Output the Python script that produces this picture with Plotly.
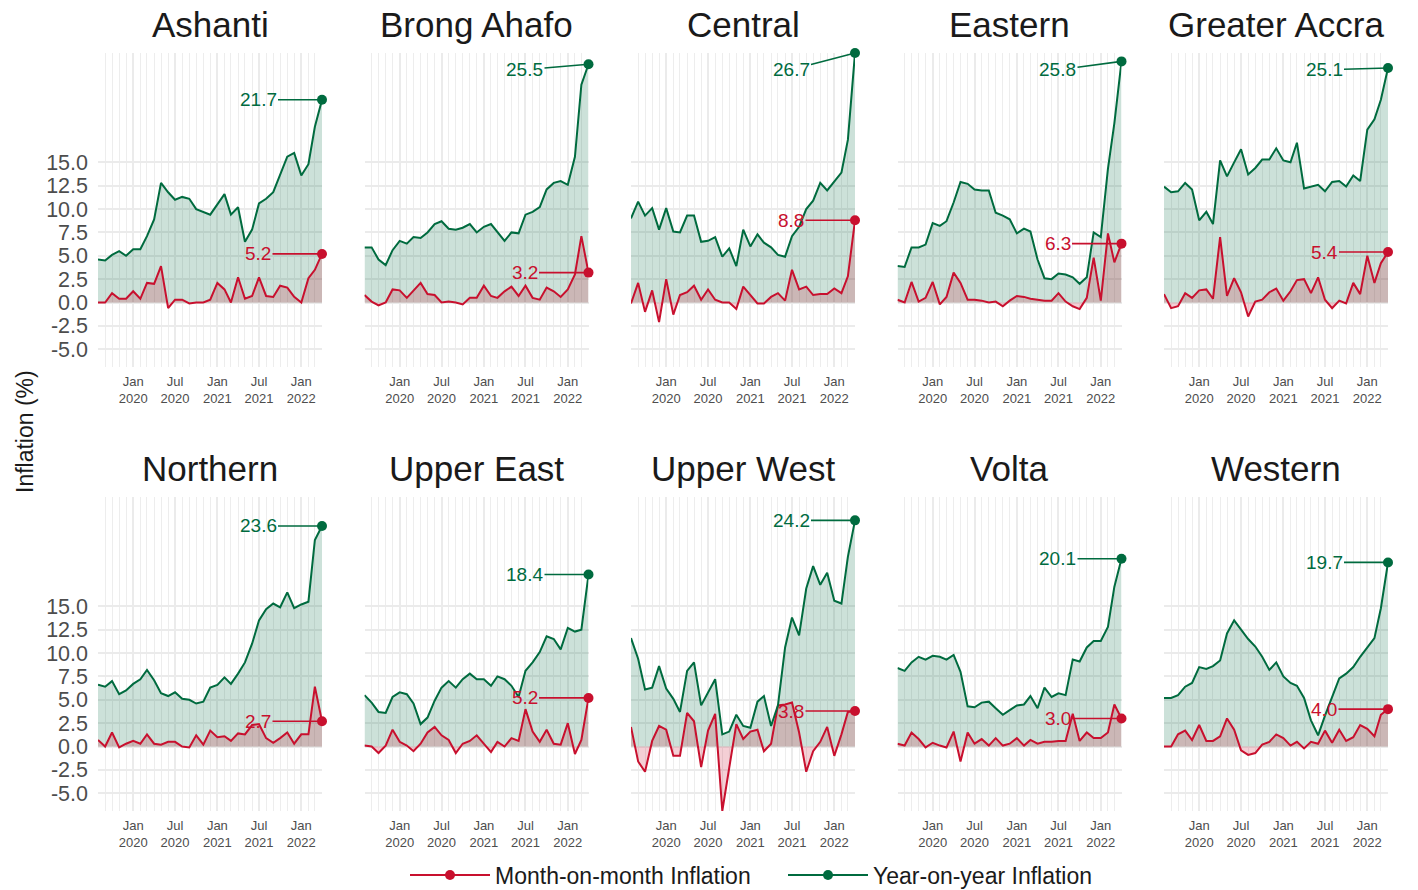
import plotly.graph_objects as go
import pandas as pd

# ---------------- data ----------------
months = pd.date_range("2019-08-01", "2022-04-01", freq="MS")

regions = ["Ashanti", "Brong Ahafo", "Central", "Eastern", "Greater Accra",
           "Northern", "Upper East", "Upper West", "Volta", "Western"]

yoy_ashanti = [4.6, 4.5, 5.1, 5.5, 5.0, 5.7, 5.7, 7.1, 8.9, 12.8, 11.8, 11.0, 11.3, 11.1, 10.0, 9.7, 9.4,
               10.5, 11.6, 9.4, 10.2, 6.5, 7.8, 10.6, 11.1, 11.8, 13.7, 15.6, 16.0, 13.6, 14.8, 18.8, 21.7]
mom_ashanti = [0.0, 0.0, 1.0, 0.4, 0.4, 1.2, 0.4, 2.1, 2.0, 3.9, -0.6, 0.3, 0.3, -0.1, 0.0, 0.0, 0.3,
               2.1, 1.4, 0.0, 2.7, 0.4, 0.7, 2.7, 0.7, 0.6, 1.8, 1.6, 0.6, 0.0, 2.6, 3.5, 5.2]

yoy_brong_ahafo = [5.9, 5.9, 4.6, 4.0, 5.6, 6.6, 6.3, 7.0, 6.9, 7.5, 8.4, 8.7, 7.9, 7.8, 8.0, 8.4, 7.5,
                   8.1, 8.4, 7.5, 6.6, 7.5, 7.4, 9.4, 9.7, 10.2, 12.1, 12.8, 13.0, 12.6, 15.6, 23.3, 25.5]
mom_brong_ahafo = [0.8, 0.1, -0.3, 0.0, 1.4, 1.3, 0.5, 1.3, 2.1, 0.9, 0.8, 0.0, 0.1, 0.0, -0.2, 0.5, 0.5,
                   1.8, 0.7, 0.5, 1.2, 1.7, 0.7, 1.8, 0.5, 0.3, 1.6, 1.2, 0.6, 1.4, 3.0, 7.1, 3.2]

yoy_central = [9.0, 10.8, 9.3, 10.1, 7.8, 10.1, 7.6, 7.5, 9.3, 9.3, 6.5, 6.6, 7.0, 4.9, 5.8, 3.9, 7.8,
               6.0, 7.3, 6.4, 5.9, 5.1, 4.9, 7.1, 8.1, 10.0, 10.9, 12.8, 12.0, 12.9, 13.9, 17.4, 26.7]
mom_central = [-0.1, 2.1, -1.0, 1.3, -2.1, 2.5, -1.3, 0.8, 1.1, 1.8, 0.3, 1.4, 0.3, 0.0, 0.0, -0.7, 1.7,
               0.8, -0.1, -0.1, 0.6, 1.0, 0.2, 3.5, 1.4, 1.7, 0.8, 0.9, 0.9, 1.5, 1.0, 2.8, 8.8]

yoy_eastern = [3.9, 3.8, 5.9, 5.9, 6.2, 8.5, 8.2, 8.7, 10.7, 12.9, 12.7, 12.1, 12.0, 12.0, 9.6, 9.3, 8.9,
               7.4, 7.9, 7.6, 4.6, 2.6, 2.5, 3.1, 3.0, 2.7, 2.0, 2.7, 7.5, 7.0, 14.3, 19.2, 25.8]
mom_eastern = [0.3, 0.0, 2.2, 0.1, 0.5, 2.2, -0.2, 0.6, 3.2, 2.1, 0.3, 0.3, 0.2, 0.0, 0.1, -0.4, 0.2,
               0.7, 0.6, 0.4, 0.3, 0.2, 0.2, 1.0, 0.1, -0.4, -0.7, 0.5, 4.8, 0.2, 7.4, 4.3, 6.3]

yoy_greater_accra = [12.4, 11.8, 11.9, 12.8, 12.1, 8.8, 9.7, 8.4, 15.2, 13.5, 15.0, 16.4, 13.7, 14.4, 15.3, 15.3, 16.5,
                     15.2, 15.0, 17.1, 12.2, 12.4, 12.6, 11.9, 12.9, 13.0, 12.4, 13.6, 13.0, 18.5, 19.6, 21.7, 25.1]
mom_greater_accra = [0.9, -0.6, -0.4, 1.0, 0.5, 1.3, 1.4, 0.4, 7.0, 0.7, 2.6, 1.1, -1.5, 0.1, 0.3, 1.1, 1.5,
                     0.2, 1.2, 2.4, 2.5, 1.0, 2.7, 0.3, -0.6, 0.2, -0.1, 2.1, 0.9, 5.0, 2.1, 4.2, 5.4]

yoy_northern = [6.6, 6.4, 7.0, 5.6, 6.0, 6.7, 7.2, 8.2, 7.1, 5.7, 5.4, 5.8, 5.1, 5.0, 4.6, 4.8, 6.3,
                6.6, 7.4, 6.7, 7.8, 9.0, 11.0, 13.5, 14.7, 15.3, 14.9, 16.5, 14.8, 15.2, 15.5, 22.1, 23.6]
mom_northern = [0.7, 0.0, 1.5, -0.1, 0.3, 0.6, 0.3, 1.3, 0.3, 0.2, 0.5, 0.5, 0.0, -0.1, 1.2, 0.2, 1.7,
                1.0, 1.1, 0.6, 1.4, 1.3, 2.3, 2.4, 0.9, 0.4, 0.9, 1.5, 0.3, 1.3, 1.3, 6.4, 2.7]

yoy_upper_east = [5.5, 4.7, 3.7, 3.6, 5.3, 5.8, 5.6, 4.6, 2.4, 3.1, 4.9, 6.3, 7.0, 6.3, 7.2, 7.8, 7.2,
                  7.2, 6.5, 7.5, 7.2, 6.5, 5.3, 8.1, 9.0, 10.1, 11.8, 11.5, 10.4, 12.7, 12.3, 12.5, 18.4]
mom_upper_east = [0.1, 0.0, -0.7, 0.1, 1.8, 0.5, 0.1, -0.5, 0.3, 1.5, 2.1, 1.2, 0.7, -0.7, 0.3, 0.6, 1.2,
                  0.3, -0.6, 0.5, 0.0, 0.9, 0.6, 4.0, 1.6, 0.5, 1.8, 0.3, 0.2, 2.5, -0.8, 0.7, 5.2]

yoy_upper_west = [11.6, 9.4, 6.1, 6.3, 8.6, 6.2, 5.1, 3.7, 8.1, 9.0, 4.4, 5.8, 7.2, 1.3, 1.6, 3.4, 2.2,
                  2.0, 4.8, 5.4, 2.2, 4.4, 10.6, 13.8, 11.9, 16.9, 19.3, 17.3, 18.6, 15.6, 15.3, 20.3, 24.2]
mom_upper_west = [2.1, -1.6, -2.7, 0.6, 2.2, 1.8, -1.0, -1.0, 3.6, 2.7, -2.2, 1.7, 3.5, -6.9, -2.3, 2.4, 0.8,
                  1.6, 1.8, -0.5, 0.3, 4.4, 4.5, 4.7, 1.5, -2.7, -0.5, 0.5, 2.1, -1.0, 1.3, 3.7, 3.8]

yoy_volta = [8.4, 8.1, 9.0, 9.6, 9.3, 9.7, 9.6, 9.3, 9.8, 8.0, 4.3, 4.2, 4.7, 4.8, 4.1, 3.4, 3.9,
             4.4, 4.5, 5.4, 4.1, 6.3, 5.3, 5.7, 5.5, 9.3, 9.1, 10.6, 11.3, 11.3, 12.8, 17.1, 20.1]
mom_volta = [0.3, 0.1, 1.5, 0.8, -0.1, 0.4, 0.1, -0.1, 1.6, -1.6, 1.5, 0.3, 0.8, 0.1, 0.9, 0.1, 0.3,
             0.9, 0.1, 0.7, 0.3, 0.5, 0.5, 0.6, 0.6, 3.5, 0.6, 1.5, 0.9, 0.9, 1.5, 4.5, 3.0]

yoy_western = [5.2, 5.2, 5.5, 6.4, 6.8, 8.5, 8.3, 8.6, 9.2, 12.1, 13.5, 12.5, 11.5, 10.7, 9.6, 8.2, 9.0,
               7.5, 6.8, 6.5, 5.2, 2.8, 1.2, 3.3, 5.4, 7.3, 7.8, 8.5, 9.6, 10.6, 11.6, 14.8, 19.7]
mom_western = [0.0, 0.0, 1.3, 1.7, 0.7, 2.3, 0.6, 0.6, 1.1, 3.0, 1.8, -0.4, -0.9, -0.7, 0.2, 0.5, 1.3,
               0.9, 0.1, 0.5, -0.2, 0.5, 0.3, 1.7, 0.4, 1.8, 0.6, 1.0, 2.3, 1.9, 1.1, 3.4, 4.0]

yoy_series = [yoy_ashanti, yoy_brong_ahafo, yoy_central, yoy_eastern, yoy_greater_accra,
              yoy_northern, yoy_upper_east, yoy_upper_west, yoy_volta, yoy_western]
mom_series = [mom_ashanti, mom_brong_ahafo, mom_central, mom_eastern, mom_greater_accra,
              mom_northern, mom_upper_east, mom_upper_west, mom_volta, mom_western]

x_tick_dates = ["2020-01-01", "2020-07-01", "2021-01-01", "2021-07-01", "2022-01-01"]
x_tick_labels = ["Jan<br>2020", "Jul<br>2020", "Jan<br>2021", "Jul<br>2021", "Jan<br>2022"]
y_tick_vals = [-5.0, -2.5, 0.0, 2.5, 5.0, 7.5, 10.0, 12.5, 15.0]
y_tick_labels = ["-5.0", "-2.5", "0.0", "2.5", "5.0", "7.5", "10.0", "12.5", "15.0"]

# ---------------- style ----------------
W, H = 1418, 890
FONT = "Liberation Sans, Arial, sans-serif"
GREEN = "#006B3F"
RED = "#C8102E"
GREEN_FILL = "rgba(0,107,63,0.20)"
RED_FILL = "rgba(200,16,46,0.20)"
GRID = "#EBEBEB"
col_x0 = [98, 364.5, 631, 897.5, 1164]
row_top = [53, 497]
title_y = [25, 468]
PW, PH = 224, 314
Y_RANGE = [-6.9, 26.7]
LABEL_CAP = 24.9

fig = go.Figure()
layout = dict(
    width=W, height=H,
    margin=dict(l=0, r=0, t=0, b=0, autoexpand=False),
    paper_bgcolor="white", plot_bgcolor="white",
    font=dict(family=FONT, color="#1A1A1A"),
    showlegend=True,
    legend=dict(orientation="h", x=405 / W, xanchor="left", y=1 - 875 / H, yanchor="middle",
                font=dict(size=23, color="#1A1A1A"), bgcolor="rgba(0,0,0,0)", itemwidth=80,
                entrywidth=283, entrywidthmode="pixels", traceorder="normal"),
)
annotations = []

for k, region in enumerate(regions):
    r, c = divmod(k, 5)
    sx = "" if k == 0 else str(k + 1)
    xa, ya = "x" + sx, "y" + sx
    x0 = col_x0[c]
    top = row_top[r]
    layout["xaxis" + sx] = dict(
        domain=[x0 / W, (x0 + PW) / W], anchor=ya, type="date",
        range=[months[0], months[-1]],
        tickmode="array", tickvals=x_tick_dates, ticktext=x_tick_labels,
        tickfont=dict(size=13, color="#4D4D4D"), ticks="", ticklabelstandoff=5,
        showgrid=True, gridcolor=GRID, gridwidth=2,
        minor=dict(dtick="M1", tick0="2019-08-01", showgrid=True, gridcolor="#EDEDED", gridwidth=1),
        zeroline=False, showline=False, fixedrange=True,
    )
    layout["yaxis" + sx] = dict(
        domain=[1 - (top + PH) / H, 1 - top / H], anchor=xa,
        range=Y_RANGE, tickmode="array", tickvals=y_tick_vals, ticktext=y_tick_labels,
        showticklabels=(c == 0), tickfont=dict(size=21.5, color="#4D4D4D"), ticks="",
        ticklabelstandoff=9,
        showgrid=True, gridcolor=GRID, gridwidth=2, zeroline=False, showline=False, fixedrange=True,
    )
    yoy = yoy_series[k]
    mom = mom_series[k]
    # area fills
    fig.add_trace(go.Scatter(x=months, y=yoy, mode="lines", fill="tozeroy", fillcolor=GREEN_FILL,
                             line=dict(width=0, color=GREEN), xaxis=xa, yaxis=ya,
                             showlegend=False, hoverinfo="skip"))
    fig.add_trace(go.Scatter(x=months, y=mom, mode="lines", fill="tozeroy", fillcolor=RED_FILL,
                             line=dict(width=0, color=RED), xaxis=xa, yaxis=ya,
                             showlegend=False, hoverinfo="skip"))
    # lines
    fig.add_trace(go.Scatter(x=months, y=mom, mode="lines", line=dict(width=2, color=RED),
                             xaxis=xa, yaxis=ya, showlegend=False, name="Month-on-month Inflation"))
    fig.add_trace(go.Scatter(x=months, y=yoy, mode="lines", line=dict(width=2, color=GREEN),
                             xaxis=xa, yaxis=ya, showlegend=False, name="Year-on-year Inflation"))
    # end points
    fig.add_trace(go.Scatter(x=[months[-1]], y=[mom[-1]], mode="markers",
                             marker=dict(size=10, color=RED), cliponaxis=False,
                             xaxis=xa, yaxis=ya, showlegend=False, hoverinfo="skip"))
    fig.add_trace(go.Scatter(x=[months[-1]], y=[yoy[-1]], mode="markers",
                             marker=dict(size=10, color=GREEN), cliponaxis=False,
                             xaxis=xa, yaxis=ya, showlegend=False, hoverinfo="skip"))
    # end labels
    for val, col in ((yoy[-1], GREEN), (mom[-1], RED)):
        annotations.append(dict(
            x=months[-1], y=val, xref=xa, yref=ya,
            text=f"{val:.1f}", showarrow=True, arrowhead=0, arrowwidth=1.6, arrowcolor=col,
            axref="pixel", ax=-64, ayref=ya, ay=min(val, LABEL_CAP),
            standoff=0, startstandoff=0,
            font=dict(size=19, color=col, family=FONT),
        ))
    # panel title
    annotations.append(dict(
        x=(x0 + PW / 2) / W, y=1 - title_y[r] / H, xref="paper", yref="paper",
        text=region, showarrow=False, xanchor="center", yanchor="middle",
        font=dict(size=35, color="#1A1A1A", family=FONT),
    ))

# y-axis title
annotations.append(dict(
    x=25 / W, y=1 - 432 / H, xref="paper", yref="paper", text="Inflation (%)",
    showarrow=False, textangle=-90, xanchor="center", yanchor="middle",
    font=dict(size=23, color="#1A1A1A", family=FONT),
))

# legend entries
fig.add_trace(go.Scatter(x=[None], y=[None], mode="lines+markers", name="Month-on-month Inflation",
                         line=dict(color=RED, width=2), marker=dict(size=10, color=RED)))
fig.add_trace(go.Scatter(x=[None], y=[None], mode="lines+markers", name="Year-on-year Inflation",
                         line=dict(color=GREEN, width=2), marker=dict(size=10, color=GREEN)))

layout["annotations"] = annotations
fig.update_layout(**layout)
fig.write_html("out.html", config={"displayModeBar": False},
               post_script="document.body.style.margin='0';")
